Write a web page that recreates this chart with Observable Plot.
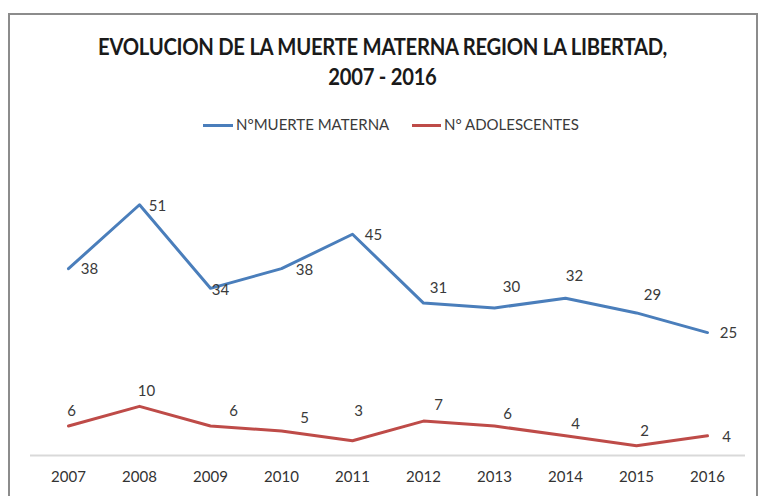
<!DOCTYPE html>
<html>
<head>
<meta charset="utf-8">
<script src="https://cdn.jsdelivr.net/npm/d3@7"></script>
<script src="https://cdn.jsdelivr.net/npm/@observablehq/plot@0.6"></script>
<style>
  html, body { margin: 0; padding: 0; background: #fff; }
  body { width: 765px; height: 496px; position: relative; overflow: hidden; font-family: Lato, "Open Sans", sans-serif; }
  #frame { position: absolute; left: 8px; top: 13px; width: 750px; height: 500px; border: 2px solid #8c8c8c; box-sizing: border-box; }
  .title { position: absolute; left: 0; width: 765px; text-align: center; font-weight: bold; font-size: 22px; color: #1a1a1a; letter-spacing: -0.3px; transform: scaleX(0.92); transform-origin: 382px 0; }
  #legend { position: absolute; top: 115px; left: 0; width: 765px; font-size: 15px; color: #3a3a3a; }
  .sw { position: absolute; height: 3px; top: 9px; }
  .lt { position: absolute; top: 0; white-space: nowrap; }
  #chart { position: absolute; left: 0; top: 140px; }
</style>
</head>
<body>
<div id="frame"></div>
<div class="title" style="top:33px">EVOLUCION DE LA MUERTE MATERNA REGION LA LIBERTAD,</div>
<div class="title" style="top:63px">2007 - 2016</div>
<div id="legend">
  <div class="sw" style="left:203px;width:30px;background:#4a7ebb"></div>
  <div class="lt" style="left:236px">N°MUERTE MATERNA</div>
  <div class="sw" style="left:412px;width:29px;background:#be4b48"></div>
  <div class="lt" style="left:444px">N° ADOLESCENTES</div>
</div>
<div id="chart"></div>
<script>
const years = ["2007","2008","2009","2010","2011","2012","2013","2014","2015","2016"];
const muerteMaterna = [38, 51, 34, 38, 45, 31, 30, 32, 29, 25];
const adolescentes = [6, 10, 6, 5, 3, 7, 6, 4, 2, 4];
const seriesNames = ["N°MUERTE MATERNA", "N° ADOLESCENTES"];
const seriesColors = ["#4a7ebb", "#be4b48"];

// label placement offsets (style only)
const blueLabelOffsets = [[21,1],[18,1],[10,2],[23,2],[21,1],[15,-15],[17,-21],[9,-22],[16,-18],[21,1]];
const redLabelOffsets = [[3,-15],[7,-15],[23,-15],[23,-13],[6,-30],[15,-16],[13,-12],[10,-12],[8,-14],[19,1]];

const blue = years.map((y, i) => ({year: y, value: muerteMaterna[i], series: seriesNames[0]}));
const red = years.map((y, i) => ({year: y, value: adolescentes[i], series: seriesNames[1]}));

const labelMarks = (data, offs) => data.map((d, i) =>
  Plot.text([d], {x: "year", y: "value", text: d => String(d.value), dx: offs[i][0], dy: offs[i][1],
    fill: "#3a3a3a", fontSize: 15}));

const chart = Plot.plot({
  width: 765,
  height: 356,
  marginLeft: 30,
  marginRight: 20,
  marginTop: 20,
  marginBottom: 41,
  style: {fontFamily: "Lato, 'Open Sans', sans-serif", background: "transparent"},
  x: {type: "point", domain: years, padding: 0.5, label: null},
  y: {domain: [0, 60], axis: null},
  marks: [
    Plot.ruleY([0], {stroke: "#d9d9d9", strokeWidth: 2}),
    Plot.line(blue, {x: "year", y: "value", stroke: seriesColors[0], strokeWidth: 3}),
    Plot.line(red, {x: "year", y: "value", stroke: seriesColors[1], strokeWidth: 3}),
    ...labelMarks(blue, blueLabelOffsets),
    ...labelMarks(red, redLabelOffsets),
    Plot.axisX({tickSize: 0, tickPadding: 16, fontSize: 15, fill: "#333", label: null})
  ]
});
document.getElementById("chart").appendChild(chart);
</script>
</body>
</html>
